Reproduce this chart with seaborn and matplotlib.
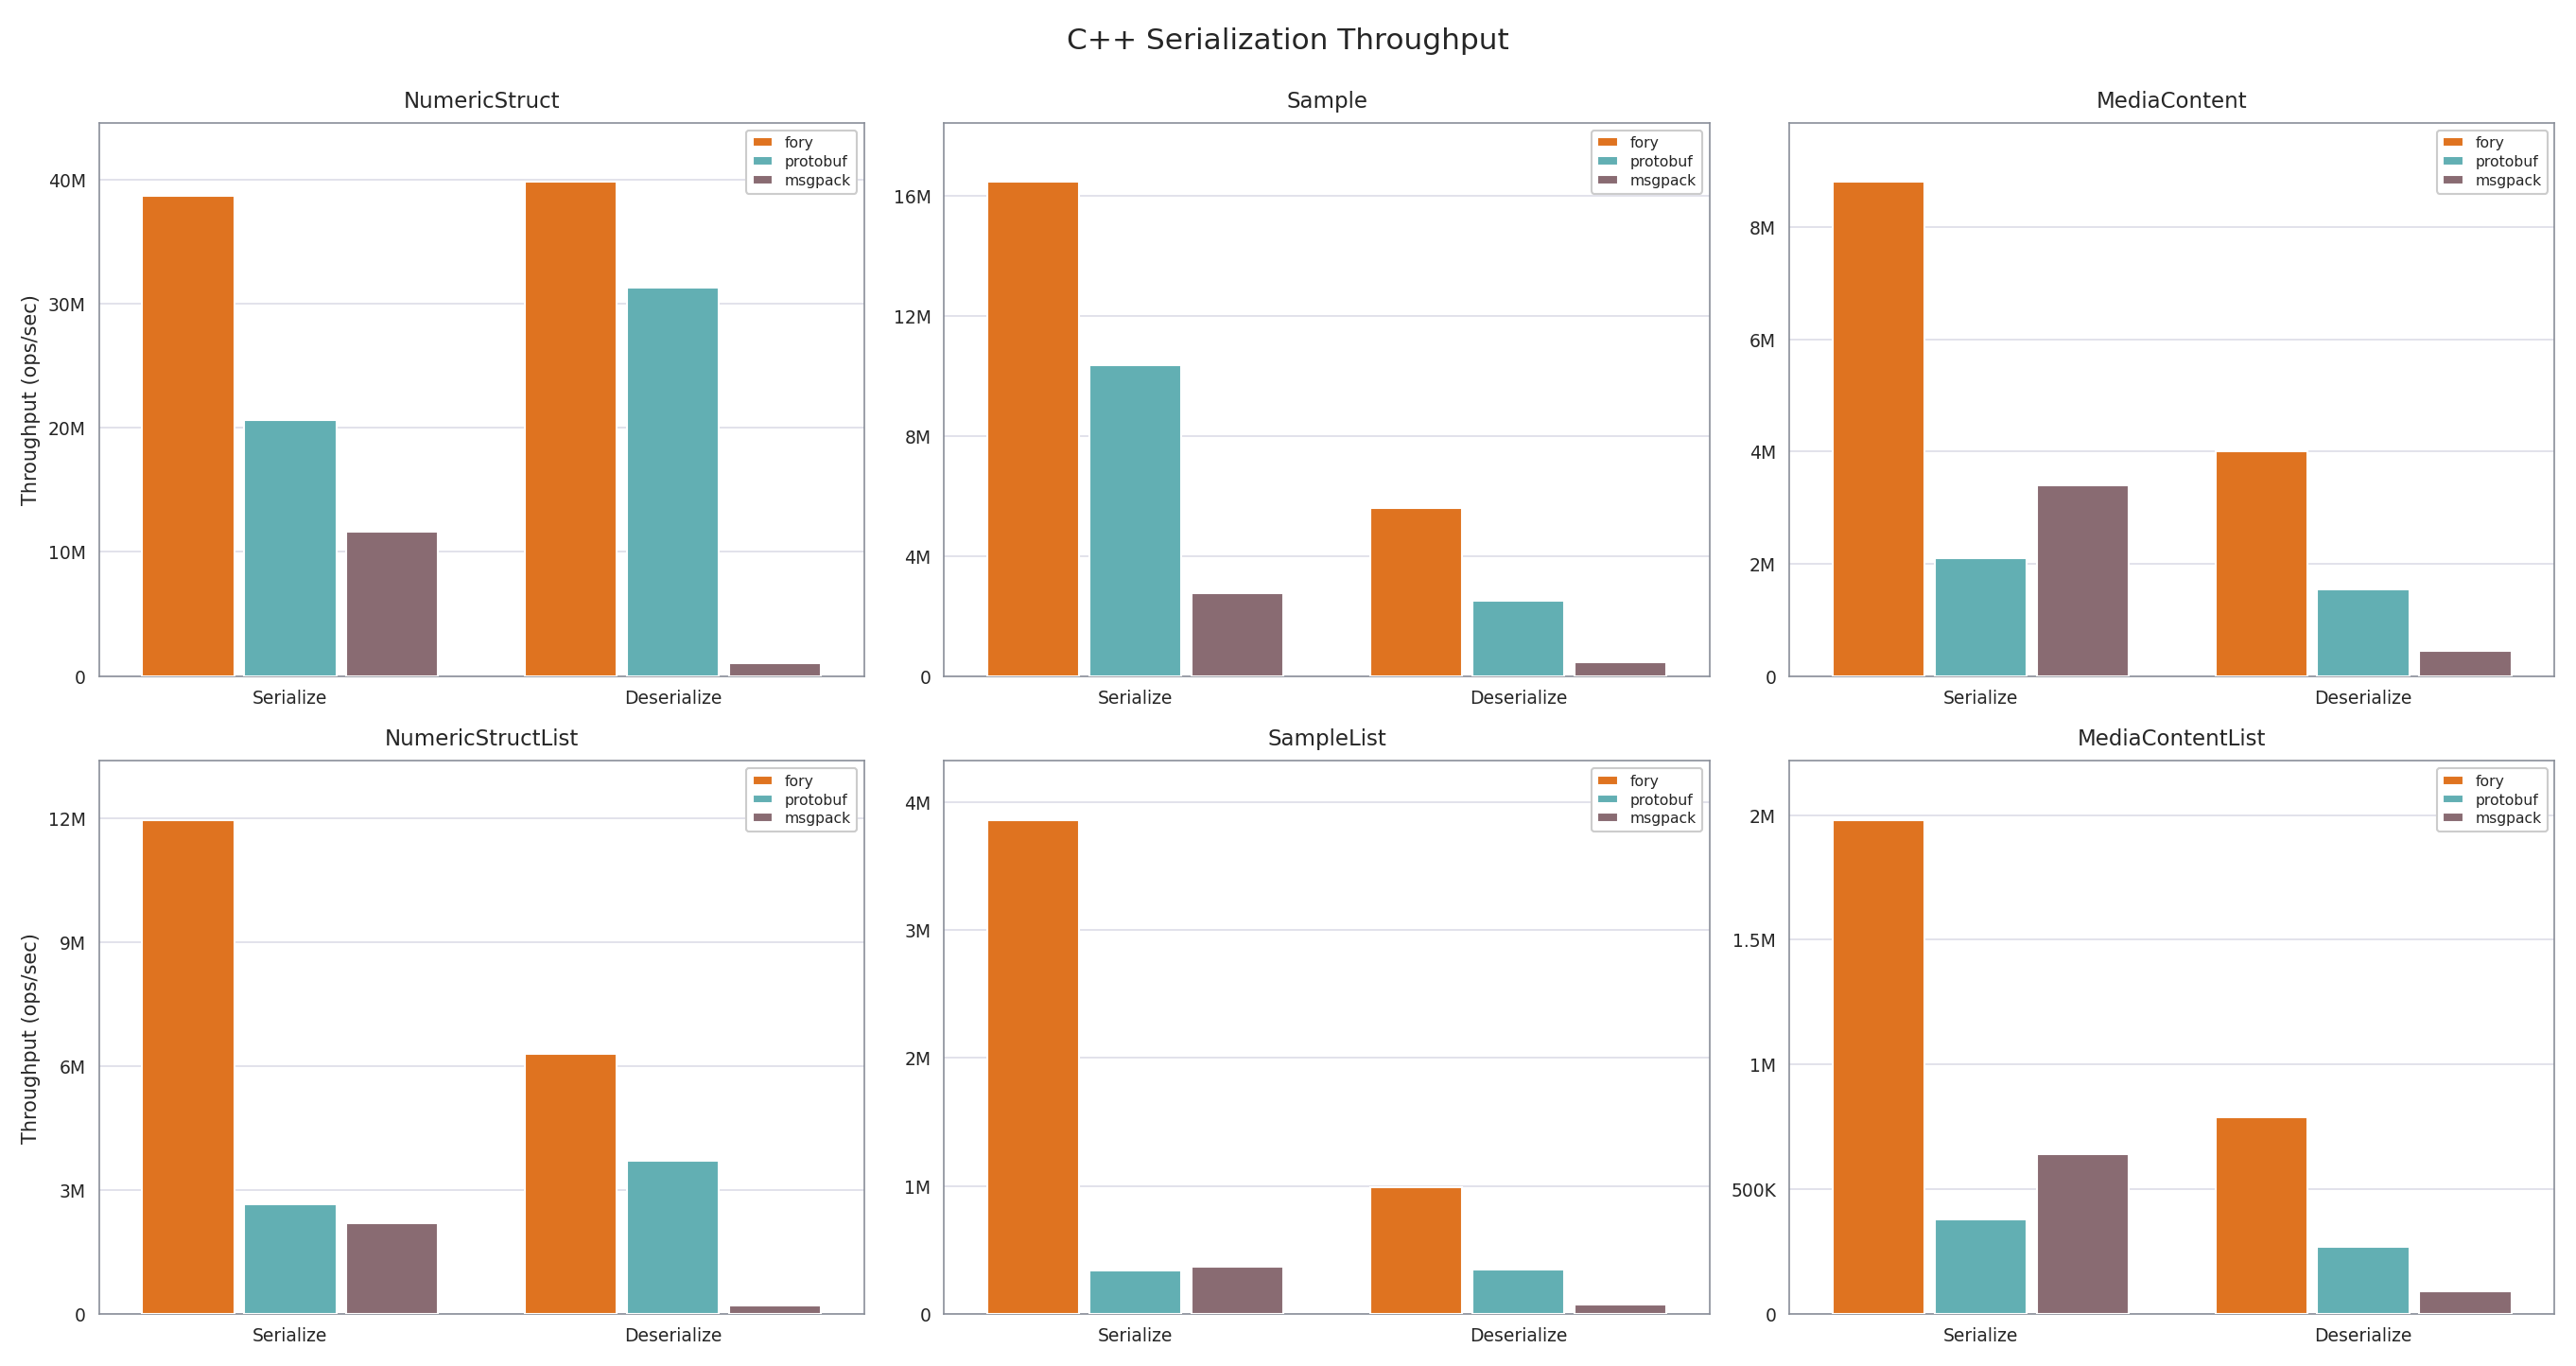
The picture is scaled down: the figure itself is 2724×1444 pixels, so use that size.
import pandas as pd
import numpy as np
import matplotlib.pyplot as plt
import seaborn as sb
from matplotlib.ticker import FuncFormatter, MultipleLocator

# data (ops/sec)
cases = ['NumericStruct', 'Sample', 'MediaContent', 'NumericStructList', 'SampleList', 'MediaContentList']
ops = ['Serialize', 'Deserialize']
libs = ['fory', 'protobuf', 'msgpack']
fory = [[38.7e6, 39.8e6], [16.45e6, 5.6e6], [8.8e6, 4.0e6], [11.95e6, 6.3e6], [3.86e6, 0.99e6], [1.98e6, 0.79e6]]
protobuf = [[20.6e6, 31.3e6], [10.35e6, 2.5e6], [2.1e6, 1.55e6], [2.65e6, 3.7e6], [0.34e6, 0.35e6], [0.38e6, 0.27e6]]
msgpack = [[11.6e6, 1.0e6], [2.75e6, 0.45e6], [3.4e6, 0.45e6], [2.2e6, 0.2e6], [0.37e6, 0.07e6], [0.64e6, 0.09e6]]
tick_step = [10e6, 4e6, 2e6, 3e6, 1e6, 0.5e6]

colors = {'fory': '#FF6F00', 'protobuf': '#55BBC0', 'msgpack': '#8E6670'}

rows = []
for i, c in enumerate(cases):
    for j, o in enumerate(ops):
        for lib, vals in zip(libs, [fory, protobuf, msgpack]):
            rows.append({'case': c, 'op': o, 'lib': lib, 'val': vals[i][j]})
d = pd.DataFrame(rows)

def fmt(v, pos):
    if v >= 1e6:
        return f"{v/1e6:g}M"
    if v >= 1e3:
        return f"{v/1e3:g}K"
    return "0"

sb.set_style('white')
fig, axes = plt.subplots(2, 3, figsize=(18.16, 9.63), dpi=150)
for k, (ax, c) in enumerate(zip(axes.flat, cases)):
    sub = d[d['case'] == c]
    sb.barplot(data=sub, x='op', y='val', hue='lib', hue_order=libs, palette=colors,
               width=0.8, gap=0.1, ax=ax, zorder=3)
    ax.set_ylim(0, sub['val'].max() * 1.12)
    ax.yaxis.set_major_locator(MultipleLocator(tick_step[k]))
    ax.yaxis.set_major_formatter(FuncFormatter(fmt))
    ax.grid(axis='y', color='#DDDDE8', linewidth=0.8, zorder=0)
    ax.set_axisbelow(True)
    for s in ax.spines.values():
        s.set_color('#8A8F99')
    ax.tick_params(axis='both', labelsize=9, length=3, color='#8A8F99')
    ax.set_title(c, fontsize=11, pad=8)
    ax.set_xlabel('')
    ax.set_ylabel('Throughput (ops/sec)' if k % 3 == 0 else '', fontsize=10)
    ax.legend(loc='upper right', fontsize=7.5, handlelength=1.4, handleheight=0.6,
              borderpad=0.4, labelspacing=0.3, framealpha=1, edgecolor='#CCCCCC')

fig.suptitle('C++ Serialization Throughput', fontsize=15)
plt.tight_layout(rect=[0, 0, 1, 0.985])
plt.savefig('out.png')
